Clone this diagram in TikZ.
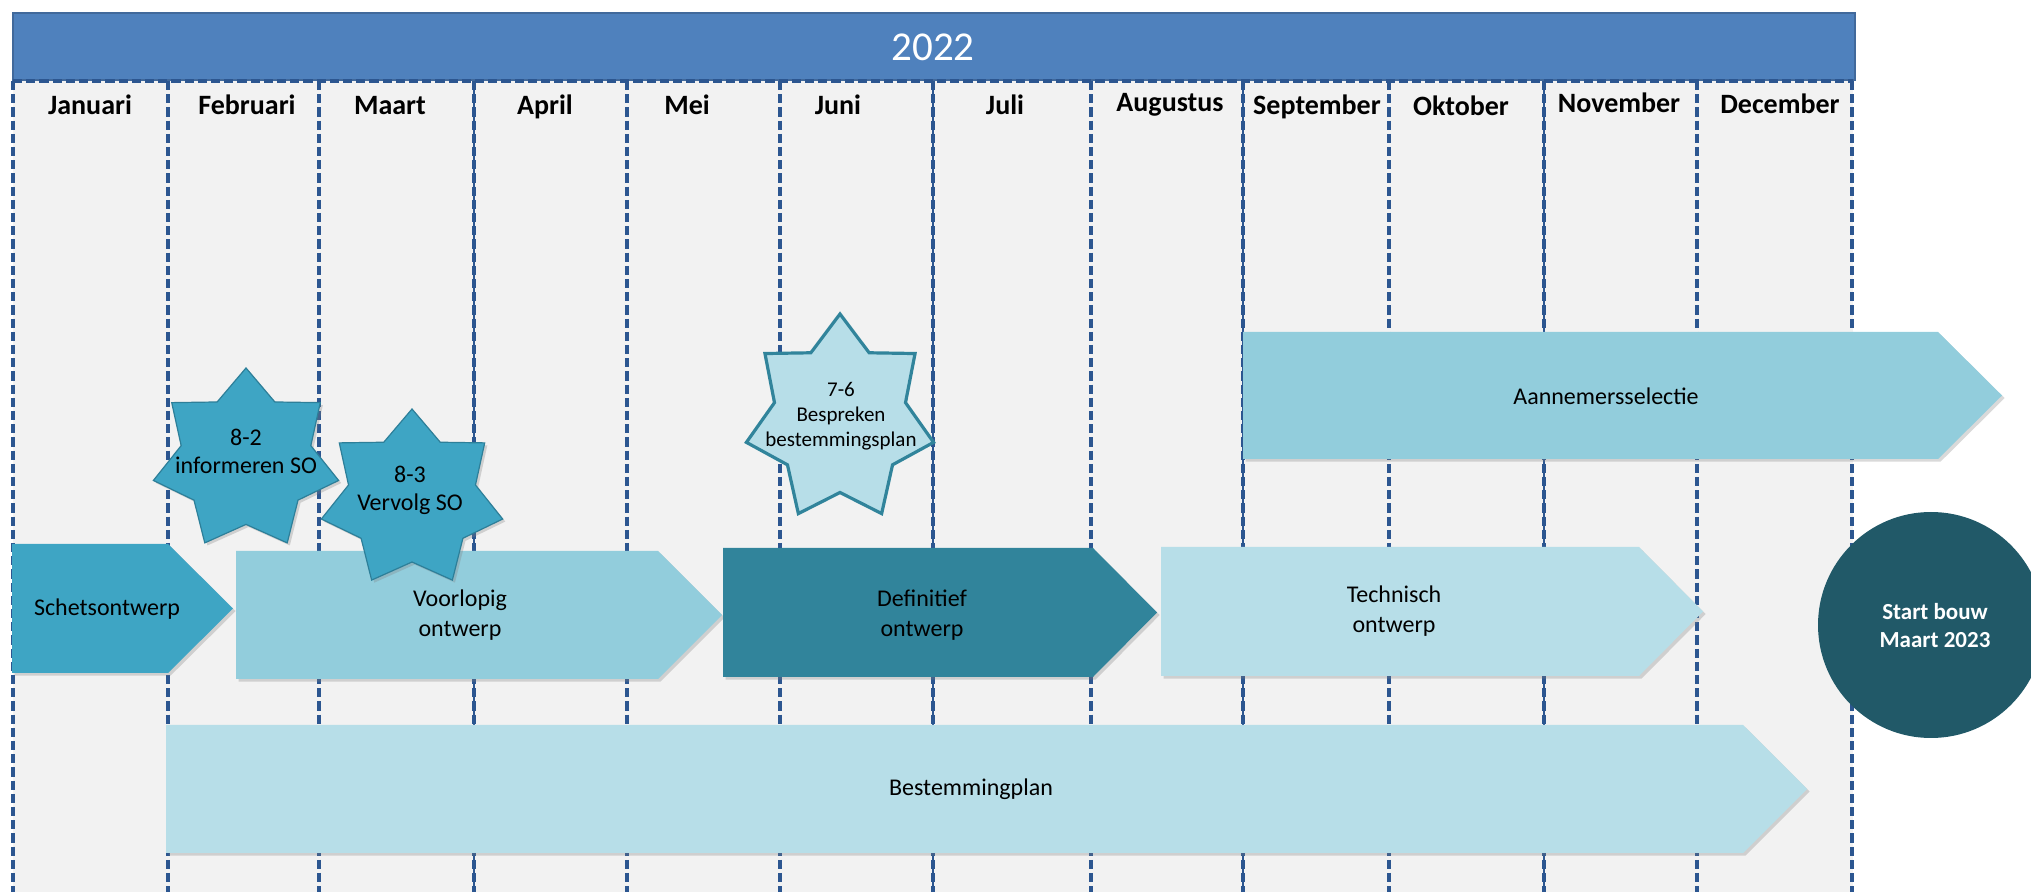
\documentclass[tikz,border=0pt]{standalone}
\usepackage{fontspec}
\setmainfont{Carlito}
\usetikzlibrary{shadows}
\definecolor{hdr}{HTML}{4F81BD}
\definecolor{hdrline}{HTML}{41699B}
\definecolor{bg}{HTML}{F2F2F2}
\definecolor{divc}{HTML}{2C5690}
\definecolor{tealA}{HTML}{3EA5C4}
\definecolor{tealAline}{HTML}{2D7F99}
\definecolor{tealB}{HTML}{92CDDC}
\definecolor{tealC}{HTML}{31849B}
\definecolor{tealD}{HTML}{B7DEE8}
\definecolor{darkc}{HTML}{215968}
\newcommand\chevshape[6]{% style, x1, y1, shoulder, tip, y2
  \path[#1] (#2,#3) -- (#4,#3) -- (#5,{(#3+#6)/2}) -- (#4,#6) -- (#2,#6) -- cycle;}
\newcommand\starshape[5]{% style, cx, cy, rx, ry
  \path[#1] plot[samples at={0,...,13}, variable=\k]
    ({#2+(0.85+0.15*cos(180*\k))*#4*cos(90+\k*180/7)},
     {#3-(0.85+0.15*cos(180*\k))*#5*sin(90+\k*180/7)}) -- cycle;}
\begin{document}
\begin{tikzpicture}[x=0.5pt,y=-0.5pt,
  divline/.style={draw=divc, line width=2.1pt, dash pattern=on 4.6pt off 2pt},
  solidline/.style={draw=divc, line width=1pt},
  shad/.style={drop shadow={shadow xshift=1.3pt,shadow yshift=-1.3pt,opacity=0.3}},
  lbl/.style={font=\fontsize{12}{15}\selectfont, align=center, inner sep=0},
  month/.style={font=\bfseries\fontsize{14}{16}\selectfont, anchor=base, inner sep=0},
  starA/.style={fill=tealA, draw=tealAline, line width=0.6pt, shad},
  starB/.style={fill=tealD, draw=tealC, line width=1.6pt},
  startxt/.style={font=\fontsize{12}{14}\selectfont, align=center, inner sep=0},
  startxtB/.style={font=\fontsize{10.5}{12.5}\selectfont, align=center, inner sep=0}]
\useasboundingbox (0,0) rectangle (2031,892);
% background and header
\fill[bg] (13,80) rectangle (1853,892);
\draw[fill=hdr, draw=hdrline, line width=1pt] (13,13) rectangle (1855,80);
\node[text=white, font=\fontsize{20.5}{24}\selectfont, inner sep=0] (year) at (933,47) {2022};
\draw[divline, line width=1.6pt] (13,81) -- (1853,81);
% month dividers
\foreach \x in {474,933,1243,1544} \draw[solidline] (\x,81) -- (\x,892);
\foreach \x in {13,168,319,474,627,780,933,1091,1243,1389,1544,1697,1852}
  \draw[divline] (\x,81) -- (\x,892);
% month labels
\node[month] (m1) at (90,115) {Januari};
\node[month] (m2) at (247,115) {Februari};
\node[month] (m3) at (390,115) {Maart};
\node[month] (m4) at (545,115) {April};
\node[month] (m5) at (687,115) {Mei};
\node[month] (m6) at (838,115) {Juni};
\node[month] (m7) at (1005,115) {Juli};
\node[month] (m8) at (1170,112) {Augustus};
\node[month] (m9) at (1317,115) {September};
\node[month] (m10) at (1461,116) {Oktober};
\node[month] (m11) at (1619,113) {November};
\node[month] (m12) at (1780,114) {December};
% phases
\chevshape{fill=tealB, shad}{1243}{332}{1938}{2002}{459}
\chevshape{fill=tealA, shad}{12}{544}{168}{233}{673}
\chevshape{fill=tealB, shad}{236}{551}{658}{722}{679}
\chevshape{fill=tealC, shad}{723}{548}{1093}{1157}{677}
\chevshape{fill=tealD, shad}{1161}{547}{1639}{1703}{676}
\chevshape{fill=tealD, shad}{166}{725}{1743}{1807}{853}
\node[lbl] (aan) at (1606,396) {Aannemersselectie};
\node[lbl] (sch) at (107,609) {Schetsontwerp};
\node[lbl] (vo) at (460,615) {Voorlopig\\ontwerp};
\node[lbl] (do) at (922,615) {Definitief\\ontwerp};
\node[lbl] (to) at (1394,611) {Technisch\\ontwerp};
\node[lbl] (bp) at (971,789) {Bestemmingplan};
% stars
\starshape{starA}{246}{460}{95}{92}
\starshape{starA}{412}{499}{93}{90}
\starshape{starB}{840}{419}{96}{105}
\node[startxt] (s1) at (246,451) {8-2\\informeren SO};
\node[startxt] (s2) at (410,490) {8-3\\Vervolg SO};
\node[startxtB] (s3) at (841,416) {7-6\\Bespreken\\bestemmingsplan};
% start bouw
\fill[darkc] (1931,625) circle[radius=113];
\node[text=white, font=\bfseries\fontsize{11.5}{14}\selectfont, align=center, inner sep=0] (sb) at (1935,626) {Start bouw\\Maart 2023};
\end{tikzpicture}
\end{document}
